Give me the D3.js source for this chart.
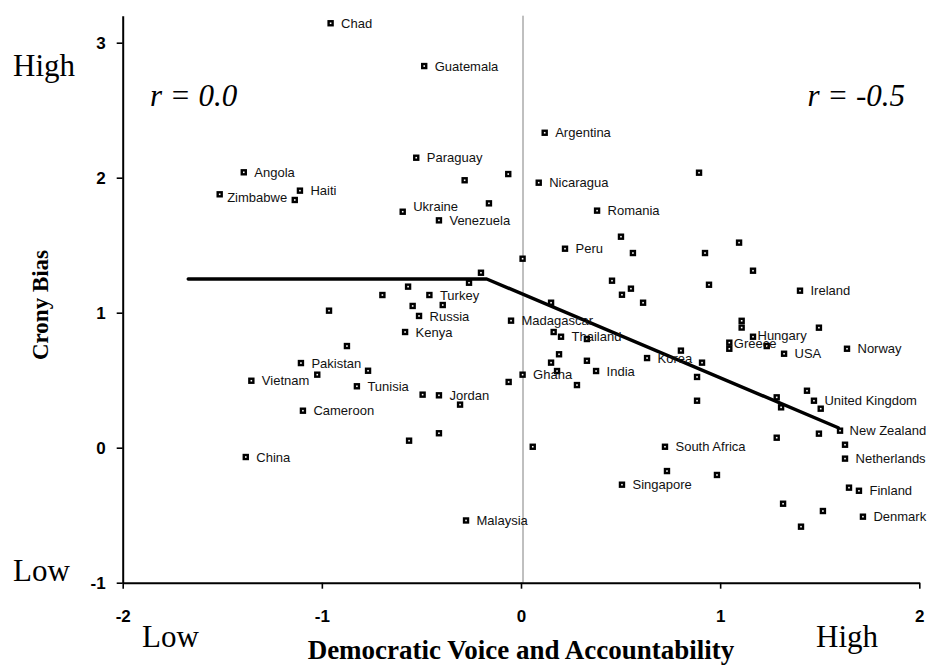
<!DOCTYPE html>
<html>
<head>
<meta charset="utf-8">
<script src="https://cdn.jsdelivr.net/npm/d3@7"></script>
<style>
  html, body { margin: 0; padding: 0; background: #fff; }
  svg { display: block; }
</style>
</head>
<body>
<svg id="chart" width="932" height="666"></svg>
<script>
// ---------------- DATA ----------------
const countries = [
  "Chad","Guatemala","Angola","Zimbabwe","Haiti","Paraguay","Ukraine","Venezuela",
  "Argentina","Nicaragua","Romania","Peru","Ireland","Madagascar","Turkey","Russia",
  "Kenya","Pakistan","Vietnam","Tunisia","Jordan","Cameroon","China","Thailand",
  "India","Ghana","Korea","South Africa","Singapore","Hungary","Greece","USA",
  "Norway","United Kingdom","New Zealand","Netherlands","Finland","Denmark","Malaysia",
  "","","","","","","","","","","","","","","","","","","","","","","","","","","","",
  "","","","","","","","","","","","","","","","","","","","","","","","","","","","",
  "","","","","",""
];
const voice = [
  -0.956,-0.486,-1.392,-1.513,-1.110,-0.526,-0.594,-0.412,
   0.119, 0.089, 0.382, 0.221, 1.401,-0.050,-0.460,-0.512,
  -0.582,-1.105,-1.354,-0.824,-0.412,-1.095,-1.382, 0.201,
   0.377, 0.008, 0.633, 0.723, 0.507, 1.165, 1.046, 1.321,
   1.637, 1.471, 1.602, 1.627, 1.697, 1.717,-0.276,
  -1.136,-0.283,-0.064,-0.161, 0.894, 0.008, 0.502, 0.562, 0.924, 1.095,
   1.165, 0.944, 0.457, 0.552, 0.507, 0.613, 0.151, 1.108, 1.108, 1.496,
  -0.201,-0.261,-0.567,-0.696,-0.544,-0.393,-0.964,-0.874,-0.768,-1.023,
  -0.494,-0.306,-0.062,-0.412,-0.562, 0.164, 0.331, 0.191, 0.151, 0.181,
   0.331, 0.281, 0.803, 0.909, 0.884, 0.884, 0.059, 0.733, 0.984, 1.046,
   1.234, 1.436, 1.284, 1.306, 1.505, 1.284, 1.496, 1.627, 1.647, 1.316,
   1.516, 1.406
];
const cronyBias = [
   3.144, 2.827, 2.040, 1.877, 1.904, 2.148, 1.748, 1.684,
   2.333, 1.963, 1.756, 1.474, 1.163, 0.941, 1.131, 0.976,
   0.857, 0.627, 0.496, 0.455, 0.388, 0.274,-0.069, 0.822,
   0.568, 0.541, 0.664, 0.007,-0.274, 0.822, 0.778, 0.696,
   0.733, 0.348, 0.126,-0.081,-0.319,-0.511,-0.539,
   1.835, 1.981, 2.027, 1.810, 2.037, 1.400, 1.563, 1.442, 1.442, 1.519,
   1.311, 1.207, 1.237, 1.178, 1.133, 1.074, 1.074, 0.940, 0.890, 0.889,
   1.296, 1.222, 1.193, 1.131, 1.050, 1.057, 1.015, 0.753, 0.570, 0.541,
   0.393, 0.319, 0.487, 0.107, 0.052, 0.857, 0.805, 0.692, 0.630, 0.568,
   0.644, 0.464, 0.719, 0.630, 0.524, 0.348, 0.007,-0.173,-0.202, 0.733,
   0.753, 0.422, 0.373, 0.299, 0.289, 0.074, 0.104, 0.022,-0.296,-0.415,
  -0.469,-0.585
];
// fitted piecewise line
const fitX = [-1.671, -0.172, 1.593];
const fitY = [1.250, 1.250, 0.148];
// ticks
const xTicks = [-2, -1, 0, 1, 2];
const yTicks = [-1, 0, 1, 2, 3];
const xTitle = "Democratic Voice and Accountability";
const yTitle = "Crony Bias";
const rLeft = "r = 0.0";
const rRight = "r = -0.5";

// label layout nudges (px) for a few crowded labels
const labelNudge = {
  "Zimbabwe": [-3, 3], "Ukraine": [0, -5], "Greece": [-6, 1],
  "Hungary": [-6, -1], "New Zealand": [-1, 0]
};

// ---------------- CHART ----------------
const svg = d3.select("#chart");
const x = d3.scaleLinear().domain([-2, 2]).range([122.7, 919.3]);
const y = d3.scaleLinear().domain([-1, 3.2]).range([582.7, 15.7]);

const points = countries.map((c, i) => ({ name: c, x: voice[i], y: cronyBias[i] }));

// zero reference line
svg.append("line")
  .attr("x1", x(0) + 2).attr("x2", x(0) + 2)
  .attr("y1", y(3.2)).attr("y2", y(-1))
  .attr("stroke", "#808080").attr("stroke-width", 1);

// fit line
const fit = fitX.map((v, i) => [v, fitY[i]]);
svg.append("path")
  .datum(fit)
  .attr("d", d3.line().x(d => x(d[0])).y(d => y(d[1])))
  .attr("fill", "none").attr("stroke", "#000").attr("stroke-width", 3.4)
  .attr("stroke-linecap", "round").attr("stroke-linejoin", "round");

// markers
svg.append("g").selectAll("rect").data(points).join("rect")
  .attr("x", d => x(d.x) - 2).attr("y", d => y(d.y) - 2)
  .attr("width", 4).attr("height", 4)
  .attr("fill", "#fff").attr("stroke", "#000").attr("stroke-width", 2.4);

// labels
svg.append("g").selectAll("text").data(points.filter(d => d.name)).join("text")
  .attr("x", d => x(d.x) + 10.5 + (labelNudge[d.name] ? labelNudge[d.name][0] : 0))
  .attr("y", d => y(d.y) + (labelNudge[d.name] ? labelNudge[d.name][1] : 0))
  .attr("dy", "0.36em")
  .attr("font-family", "Arial, 'Liberation Sans', sans-serif")
  .attr("font-size", 13).attr("fill", "#111")
  .text(d => d.name);

// axes
const yAxis = svg.append("g").attr("transform", `translate(${x(-2)},0)`)
  .call(d3.axisLeft(y).tickValues(yTicks).tickSize(6).tickSizeOuter(0).tickPadding(11).tickFormat(d3.format("d")));
const xAxis = svg.append("g").attr("transform", `translate(0,${y(-1)})`)
  .call(d3.axisBottom(x).tickValues(xTicks).tickSize(6).tickSizeOuter(0).tickPadding(21).tickFormat(d3.format("d")));
[yAxis, xAxis].forEach(g => {
  g.attr("font-family", "Arial, 'Liberation Sans', sans-serif").attr("font-size", 17).attr("font-weight", "bold");
  g.select(".domain").attr("stroke", "#000").attr("stroke-width", 2);
  g.selectAll(".tick line").attr("stroke", "#000").attr("stroke-width", 1.6);
  g.selectAll(".tick text").attr("fill", "#000")
    .style("font-weight", "bold").style("font-size", "17px")
    .text(d => d < 0 ? "-" + Math.abs(d) : String(d));
});

// axis titles
const serif = "'Times New Roman', 'Liberation Serif', serif";
svg.append("text").attr("x", x(0)).attr("y", 659)
  .attr("text-anchor", "middle").attr("font-family", serif)
  .attr("font-weight", "bold").attr("font-size", 27).text(xTitle);
svg.append("text").attr("transform", "translate(48,305) rotate(-90)")
  .attr("text-anchor", "middle").attr("font-family", serif)
  .attr("font-weight", "bold").attr("font-size", 23).text(yTitle);

// High / Low annotations
const ann = [
  { t: "High", x: 13, y: 76, a: "start" },
  { t: "Low", x: 13, y: 581, a: "start" },
  { t: "Low", x: 142, y: 647, a: "start" },
  { t: "High", x: 878, y: 647, a: "end" }
];
svg.append("g").selectAll("text").data(ann).join("text")
  .attr("x", d => d.x).attr("y", d => d.y).attr("text-anchor", d => d.a)
  .attr("font-family", serif).attr("font-size", 31).text(d => d.t);

// r annotations
svg.append("text").attr("x", 150).attr("y", 106)
  .attr("font-family", serif).attr("font-style", "italic").attr("font-size", 31).text(rLeft);
svg.append("text").attr("x", 905).attr("y", 106).attr("text-anchor", "end")
  .attr("font-family", serif).attr("font-style", "italic").attr("font-size", 31).text(rRight);
</script>
</body>
</html>
